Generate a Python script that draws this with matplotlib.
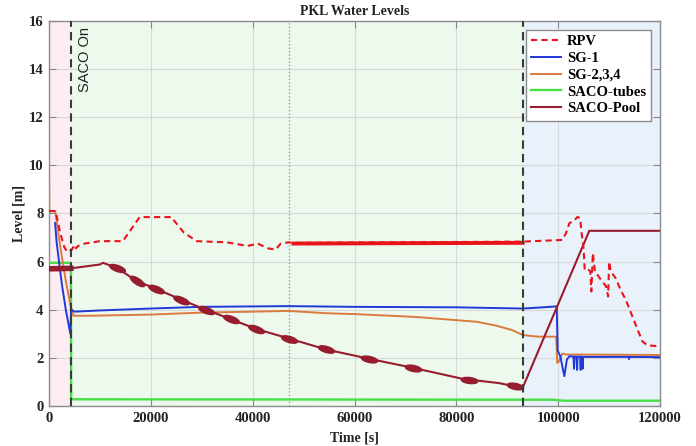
import numpy as np
import matplotlib
matplotlib.use("Agg")
import matplotlib.pyplot as plt
from matplotlib.markers import MarkerStyle
from matplotlib.transforms import Affine2D

plt.rcParams['font.family'] = ['Liberation Serif', 'DejaVu Serif']

# ---------------- data ----------------
rpv_t = [0, 1300, 2200, 3000, 3600, 4500, 5000, 5300, 5700, 7000, 10000, 14500,
         17800, 24000, 26500, 29000, 35000, 39000, 41000, 43000, 44500, 45500,
         47000, 48000, 93000, 100800, 101500, 102200, 103100, 103800, 104300,
         104600, 105000, 105200, 105750, 106300, 106500, 106800, 107200, 107700,
         108400, 109400, 109800, 110000, 110300, 111300, 112300, 113300, 114300,
         115600, 116500, 117500, 120000]
rpv_v = [8.1, 8.1, 7.2, 6.6, 6.4, 6.5, 6.7, 6.55, 6.65, 6.75, 6.85, 6.85,
         7.85, 7.85, 7.2, 6.85, 6.8, 6.65, 6.75, 6.55, 6.5, 6.75,
         6.8, 6.78, 6.83, 6.9, 7.17, 7.6, 7.7, 7.86, 7.8,
         7.17, 6.5, 5.66, 5.7, 5.6, 4.76, 6.35, 5.6, 5.45,
         5.24, 4.97, 4.55, 6.0, 5.6, 5.3, 4.8, 4.4, 3.86,
         3.17, 2.69, 2.52, 2.48]
rpv_noise_t = [48000, 93000]
rpv_noise_v = [6.75, 6.78]

sg1_t = [1200, 1500, 2500, 3300, 4200, 4350, 5000, 10000, 20000, 30000, 47000,
         60000, 80000, 93000, 97000, 99700, 99900, 100400, 100850, 101200,
         101700, 102200, 103000, 103100, 103200, 103600, 103700, 103800, 104300,
         104400, 104500, 104700, 104800, 104900, 113800, 113900, 114000, 120000]
sg1_v = [7.6, 6.8, 5.1, 4.0, 3.0, 4.0, 3.92, 3.97, 4.05, 4.12, 4.15,
         4.12, 4.1, 4.05, 4.1, 4.14, 2.3, 2.07, 1.6, 1.24,
         1.93, 2.07, 2.05, 1.55, 2.05, 2.05, 1.5, 2.05, 2.05,
         1.5, 2.05, 2.05, 1.55, 2.04, 2.04, 1.95, 2.04, 2.03]

sg234_t = [0, 60, 1200, 2300, 3300, 4200, 4800, 8000, 20000, 30000, 40000, 47000,
           55000, 60000, 72000, 84000, 88000, 91000, 93000, 96000, 99600, 99800,
           100000, 100800, 101500, 120000]
sg234_v = [10.45, 8.1, 8.1, 6.5, 5.2, 4.2, 3.75, 3.75, 3.8, 3.88, 3.92, 3.95,
           3.85, 3.82, 3.7, 3.5, 3.33, 3.15, 2.95, 2.88, 2.88, 1.8,
           1.8, 2.18, 2.14, 2.12]

tubes_t = [0, 4300, 4350, 99000, 101000, 120000]
tubes_v = [5.95, 5.95, 0.28, 0.26, 0.22, 0.22]

pool_t = [0, 4300, 10000, 10600, 13300, 17200, 21100, 26000, 29600, 35800, 40700,
          47200, 54400, 62900, 71400, 81200, 88400, 93000, 106100, 120000]
pool_v = [5.7, 5.72, 5.88, 5.95, 5.74, 5.2, 4.86, 4.42, 4.1, 3.6, 3.2,
          2.8, 2.35, 1.96, 1.59, 1.13, 0.95, 0.75, 7.28, 7.28]
pool_noise_t = [0, 4300]
pool_noise_v = [5.7, 5.72]
blob_t = [13300, 17200, 21100, 26000, 30900, 35800, 40700, 47200, 54400, 62900,
          71400, 82500, 91500]
blob_v = [5.74, 5.2, 4.86, 4.42, 4.0, 3.6, 3.2, 2.8, 2.35, 1.96, 1.59, 1.1, 0.82]

phase_edges = [0, 4300, 93000, 120000]
phase_colors = ['#fcedf3', '#eef9ee', '#e9f1fb']
saco_on_t = 4300
saco_off_t = 93000
mid_t = 47100

xticks = [0, 20000, 40000, 60000, 80000, 100000, 120000]
yticks = [0, 2, 4, 6, 8, 10, 12, 14, 16]

c_rpv = '#e8141c'
c_sg1 = '#2038d8'
c_sg2 = '#d97a3e'
c_tube = '#45e045'
c_pool = '#961c2e'

# ---------------- figure ----------------
fig = plt.figure(figsize=(6.96, 4.46), dpi=100)
ax = fig.add_axes([0.0704, 0.0897, 0.878, 0.8633])
ax.set_xlim(0, 120000)
ax.set_ylim(0, 16)

for i in range(3):
    ax.axvspan(phase_edges[i], phase_edges[i + 1], color=phase_colors[i], zorder=0, lw=0)

ax.grid(True, color='#d8d8d8', lw=0.8, zorder=1)
ax.set_axisbelow(True)

ax.axvline(mid_t, color='#9a9a9a', lw=1.0, ls=(0, (1, 1.5)), zorder=2)

ax.plot(tubes_t, tubes_v, color=c_tube, lw=1.7, zorder=3, label='SACO-tubes')
ax.plot(sg234_t, sg234_v, color=c_sg2, lw=1.4, zorder=3, label='SG-2,3,4')
ax.plot(sg1_t, sg1_v, color=c_sg1, lw=1.4, zorder=4, label='SG-1')
ax.plot(pool_t, pool_v, color=c_pool, lw=1.5, zorder=4, label='SACO-Pool')
ax.plot(pool_noise_t, pool_noise_v, color=c_pool, lw=4, zorder=4)
ax.plot(rpv_t, rpv_v, color=c_rpv, lw=1.5, ls=(0, (3, 2)), zorder=5, label='RPV')
ax.plot(rpv_noise_t, rpv_noise_v, color=c_rpv, lw=2.8, zorder=5)

# oscillation blobs on the pool curve
for t, v in zip(blob_t, blob_v):
    k = np.searchsorted(pool_t, t)
    p0 = ax.transData.transform((pool_t[k - 1], pool_v[k - 1]))
    p1 = ax.transData.transform((pool_t[k], pool_v[k]))
    ang = np.degrees(np.arctan2(p1[1] - p0[1], p1[0] - p0[0]))
    m = MarkerStyle('o', transform=Affine2D().scale(1.0, 0.36).rotate_deg(ang))
    ax.plot([t], [v], marker=m, ms=12, color=c_pool, mec=c_pool, ls='none', zorder=4)

for tv in (saco_on_t, saco_off_t):
    ax.axvline(tv, color='#3a3a3a', lw=1.5, ls=(0, (4, 2.5)), zorder=6)

ax.text(5600, 15.75, 'SACO On', rotation=90, va='top', ha='left',
        fontsize=10.5, family=['Liberation Sans', 'DejaVu Sans'], color='#222222')

ax.set_xticks(xticks)
ax.set_yticks(yticks)
ax.set_xticklabels([str(x) for x in xticks], fontsize=10.5, fontweight='bold')
ax.set_yticklabels([str(y) for y in yticks], fontsize=10.5, fontweight='bold')
ax.tick_params(direction='in', length=5, color='#888888', top=True, right=True,
               labelcolor='#222222', pad=4)
for s in ax.spines.values():
    s.set_color('#8c8c8c')
    s.set_linewidth(1.0)

ax.set_title('PKL Water Levels', fontsize=10, fontweight='bold', color='#222222', pad=4)
ax.set_xlabel('Time [s]', fontsize=10, fontweight='bold', color='#222222', labelpad=5)
ax.set_ylabel('Level [m]', fontsize=10, fontweight='bold', color='#222222', labelpad=2)

h, l = ax.get_legend_handles_labels()
order = ['RPV', 'SG-1', 'SG-2,3,4', 'SACO-tubes', 'SACO-Pool']
hh = [h[l.index(o)] for o in order]
leg = ax.legend(hh, order, loc='upper right',
                prop={'weight': 'bold', 'size': 10.5}, labelspacing=0.25,
                handlelength=2.1, handletextpad=0.4, borderaxespad=0.6,
                borderpad=0.35, fancybox=False, framealpha=1, edgecolor='#8c8c8c')
leg.set_zorder(10)

fig.savefig('out.png', dpi=100)
